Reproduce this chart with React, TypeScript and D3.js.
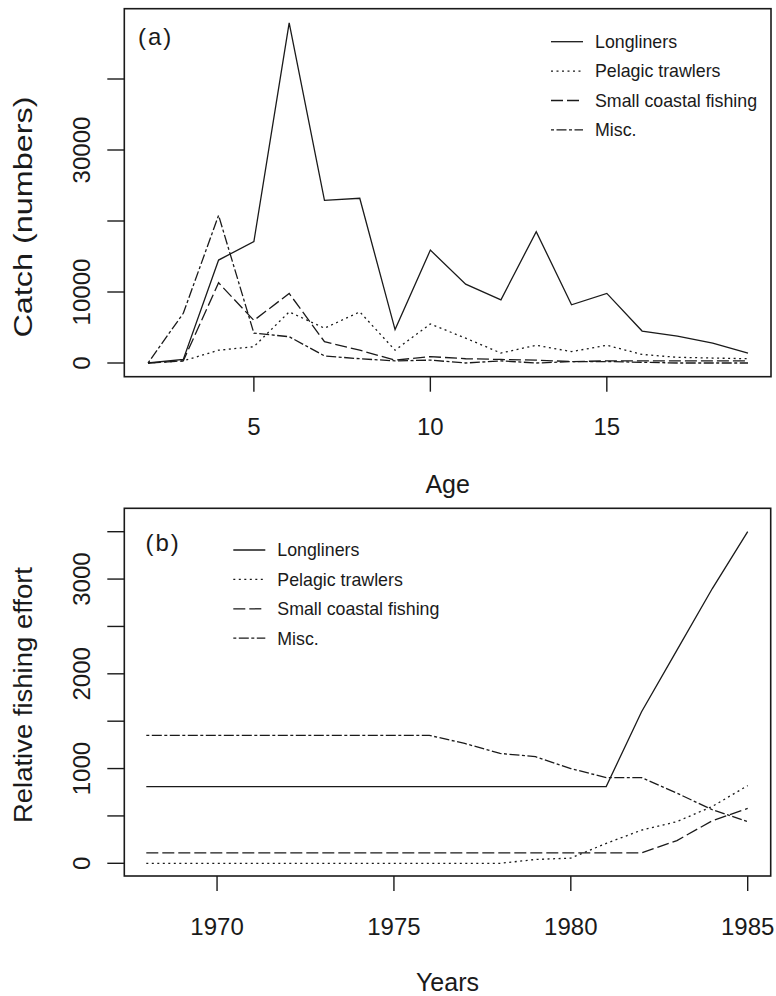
import React from "react";
import * as d3 from "d3";

const ages = [2, 3, 4, 5, 6, 7, 8, 9, 10, 11, 12, 13, 14, 15, 16, 17, 18, 19];
const catchLongliners = [0, 500, 14500, 17100, 47900, 22900, 23200, 4700, 15900, 11100, 8900, 18500, 8200, 9800, 4500, 3800, 2800, 1400];
const catchPelagic = [0, 300, 1800, 2300, 7200, 4900, 7200, 1800, 5500, 3500, 1400, 2500, 1600, 2500, 1200, 800, 700, 600];
const catchCoastal = [0, 300, 11300, 6000, 9800, 3000, 1800, 400, 900, 600, 500, 400, 200, 300, 300, 300, 300, 300];
const catchMisc = [0, 7000, 20800, 4200, 3700, 1000, 600, 300, 400, 0, 300, 0, 200, 200, 100, 0, 0, 0];

const years = [1968, 1969, 1970, 1971, 1972, 1973, 1974, 1975, 1976, 1977, 1978, 1979, 1980, 1981, 1982, 1983, 1984, 1985];
const effortLongliners = [810, 810, 810, 810, 810, 810, 810, 810, 810, 810, 810, 810, 810, 810, 1600, 2250, 2900, 3500];
const effortPelagic = [0, 0, 0, 0, 0, 0, 0, 0, 0, 0, 0, 40, 55, 210, 350, 440, 600, 820];
const effortCoastal = [110, 110, 110, 110, 110, 110, 110, 110, 110, 110, 110, 110, 110, 110, 110, 240, 450, 580];
const effortMisc = [1350, 1350, 1350, 1350, 1350, 1350, 1350, 1350, 1350, 1265, 1160, 1125, 1000, 905, 905, 740, 565, 440];

const seriesNames = ["Longliners", "Pelagic trawlers", "Small coastal fishing", "Misc."];
const dashes = ["none", "2,3.5", "12,4", "3,2.5,10,2.5"];

const ageTicks = [5, 10, 15];
const catchTicks = [0, 10000, 20000, 30000, 40000];
const catchTickLabels = ["0", "10000", "", "30000", ""];
const yearTicks = [1970, 1975, 1980, 1985];
const effortTicks = [0, 500, 1000, 1500, 2000, 2500, 3000, 3500];
const effortTickLabels = ["0", "", "1000", "", "2000", "", "3000", ""];

const FONT = "'Liberation Sans', Arial, sans-serif";
const INK = "#1a1a1a";

type PanelProps = {
  xs: number[];
  series: number[][];
  xDomain: [number, number];
  xRange: [number, number];
  yDomain: [number, number];
  yRange: [number, number];
  box: { l: number; t: number; r: number; b: number };
  xTicks: number[];
  yTicks: number[];
  yTickLabels: string[];
  xTitle: string;
  yTitle: string;
  yTitleCenter: number;
  yTitleLength: number;
  tag: string;
  tagPos: [number, number];
  legendX: number;
  legendY: number;
  xLabelBase: number;
  xTitleBase: number;
};

function Panel(p: PanelProps) {
  const x = d3.scaleLinear().domain(p.xDomain).range(p.xRange);
  const y = d3.scaleLinear().domain(p.yDomain).range(p.yRange);
  const line = d3
    .line<number>()
    .x((_, i) => x(p.xs[i]))
    .y((d) => y(d));
  const tickLen = 15;
  const cx = (p.box.l + p.box.r) / 2;
  return (
    <g>
      <rect x={p.box.l} y={p.box.t} width={p.box.r - p.box.l} height={p.box.b - p.box.t} fill="none" stroke={INK} strokeWidth={1.6} />
      {p.series.map((s, i) => (
        <path key={i} d={line(s) || ""} fill="none" stroke={INK} strokeWidth={1.3} strokeDasharray={dashes[i]} />
      ))}
      {p.xTicks.map((t) => (
        <g key={"xt" + t}>
          <line x1={x(t)} x2={x(t)} y1={p.box.b} y2={p.box.b + tickLen} stroke={INK} strokeWidth={1.4} />
          <text x={x(t)} y={p.xLabelBase} textAnchor="middle" fontSize={24} fontFamily={FONT} fill={INK}>
            {String(t)}
          </text>
        </g>
      ))}
      {p.yTicks.map((t, i) => (
        <g key={"yt" + t}>
          <line x1={p.box.l - tickLen - 2} x2={p.box.l} y1={y(t)} y2={y(t)} stroke={INK} strokeWidth={1.4} />
          {p.yTickLabels[i] ? (
            <text transform={`translate(90,${y(t)}) rotate(-90)`} textAnchor="middle" fontSize={24} fontFamily={FONT} fill={INK}>
              {p.yTickLabels[i]}
            </text>
          ) : null}
        </g>
      ))}
      <text x={cx} y={p.xTitleBase} textAnchor="middle" fontSize={25} fontFamily={FONT} fill={INK}>
        {p.xTitle}
      </text>
      <text
        transform={`translate(31.5,${p.yTitleCenter}) rotate(-90)`}
        textAnchor="middle"
        fontSize={25}
        fontFamily={FONT}
        fill={INK}
        textLength={p.yTitleLength}
        lengthAdjust="spacingAndGlyphs"
      >
        {p.yTitle}
      </text>
      <text x={p.tagPos[0]} y={p.tagPos[1]} fontSize={24} fontFamily={FONT} fill={INK} letterSpacing={2}>
        {p.tag}
      </text>
      {seriesNames.map((n, i) => {
        const ly = p.legendY + i * 29.4;
        return (
          <g key={"lg" + i}>
            <line x1={p.legendX} x2={p.legendX + 32} y1={ly} y2={ly} stroke={INK} strokeWidth={1.3} strokeDasharray={dashes[i]} />
            <text x={p.legendX + 44} y={ly + 6.3} fontSize={17.8} fontFamily={FONT} fill={INK}>
              {n}
            </text>
          </g>
        );
      })}
    </g>
  );
}

export default function App() {
  return (
    <svg width={776} height={996} style={{ position: "absolute", left: 0, top: 0, background: "#fff" }}>
      <rect x={0} y={0} width={776} height={996} fill="#fff" />
      <Panel
        xs={ages}
        series={[catchLongliners, catchPelagic, catchCoastal, catchMisc]}
        xDomain={[2, 19]}
        xRange={[148, 748]}
        yDomain={[0, 40000]}
        yRange={[363, 79]}
        box={{ l: 124.3, t: 8.7, r: 771, b: 376.7 }}
        xTicks={ageTicks}
        yTicks={catchTicks}
        yTickLabels={catchTickLabels}
        xTitle="Age"
        yTitle="Catch (numbers)"
        yTitleCenter={217}
        yTitleLength={241}
        tag="(a)"
        tagPos={[138, 45]}
        legendX={551}
        legendY={41.7}
        xLabelBase={435}
        xTitleBase={492.5}
      />
      <Panel
        xs={years}
        series={[effortLongliners, effortPelagic, effortCoastal, effortMisc]}
        xDomain={[1968, 1985]}
        xRange={[146.3, 747.7]}
        yDomain={[0, 3500]}
        yRange={[863.3, 531.7]}
        box={{ l: 124.3, t: 508.3, r: 770.7, b: 876 }}
        xTicks={yearTicks}
        yTicks={effortTicks}
        yTickLabels={effortTickLabels}
        xTitle="Years"
        yTitle="Relative fishing effort"
        yTitleCenter={695}
        yTitleLength={256}
        tag="(b)"
        tagPos={[145.5, 551]}
        legendX={233.3}
        legendY={550}
        xLabelBase={935}
        xTitleBase={991}
      />
    </svg>
  );
}
